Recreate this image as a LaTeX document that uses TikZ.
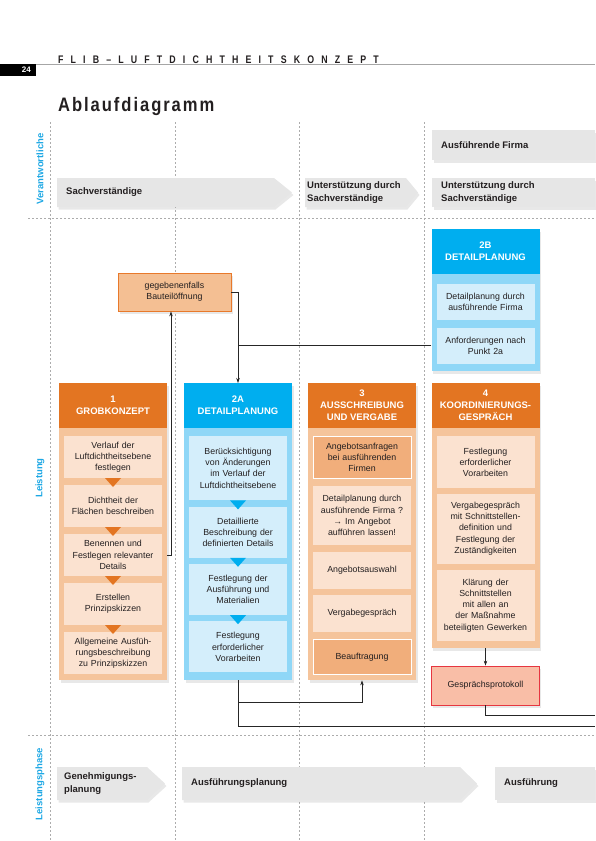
\documentclass[tikz,border=0pt]{standalone}
\usepackage{fontspec}
\setmainfont{Liberation Sans}
\newfontfamily\trackfont[FakeStretch=0.8, LetterSpace=65]{Liberation Sans}
\newfontfamily\titlefont[FakeStretch=0.85, LetterSpace=10]{Liberation Sans}
\usepackage{tikz}
\usetikzlibrary{arrows.meta, positioning, shadows}

\definecolor{orhead}{HTML}{E37522}
\definecolor{orbody}{HTML}{F5C49B}
\definecolor{orinner}{HTML}{FBE2D0}
\definecolor{ordark}{HTML}{F1AE7B}
\definecolor{bluhead}{HTML}{00AEEF}
\definecolor{blubody}{HTML}{8FD7F7}
\definecolor{bluinner}{HTML}{D4EEFB}
\definecolor{gegfill}{HTML}{F4BF93}
\definecolor{gegline}{HTML}{E8792B}
\definecolor{protfill}{HTML}{F9BEA7}
\definecolor{protline}{HTML}{E63640}
\definecolor{phasegray}{HTML}{E6E6E6}
\definecolor{rowblue}{HTML}{1CA7E4}
\definecolor{inktext}{HTML}{231F20}

\begin{document}
\begin{tikzpicture}[
    x=1pt, y=-1pt,
    >={Stealth[length=5pt, width=3.5pt]},
    every node/.style={text=inktext, inner sep=2pt},
    gridline/.style={gray!65, line width=0.5pt, dash pattern=on 2.2pt off 1.8pt},
    connector/.style={draw=black!85, line width=0.6pt},
    softshadow/.style={drop shadow={opacity=0.18, shadow xshift=1.5pt, shadow yshift=-2.5pt}},
    phase/.style={fill=phasegray, softshadow},
    phase label/.style={anchor=west, align=left, font=\fontsize{9.5}{12.5}\selectfont\bfseries},
    row label/.style={rotate=90, text=rowblue, font=\fontsize{9.5}{11}\selectfont\bfseries},
    blockbody/.style={minimum width=108pt, anchor=north, fill=#1, softshadow},
    blockhead/.style={minimum width=108pt, minimum height=45pt, anchor=north, fill=#1, text=white, align=center, font=\fontsize{9.5}{12}\selectfont\bfseries},
    taskbox/.style={fill=#1, text width=94pt, align=center, font=\fontsize{8.8}{11.2}\selectfont},
    marked task/.style={taskbox=ordark, draw=white, line width=0.9pt},
    gegbox/.style={fill=gegfill, draw=gegline, line width=0.8pt, minimum width=113pt, minimum height=38pt, align=center, font=\fontsize{8.8}{11.2}\selectfont, softshadow},
    protbox/.style={fill=protfill, draw=protline, line width=0.8pt, minimum width=108pt, minimum height=39pt, font=\fontsize{8.8}{11.2}\selectfont, softshadow}
]
    \useasboundingbox (0,0) rectangle (595,841);

    % --- PAGE HEAD ---
    \draw[gray!70, line width=0.6pt] (0,64) -- (595,64);
    \fill[black] (0,64) rectangle (36,76);
    \node[anchor=east, text=white, font=\fontsize{8}{9}\selectfont\bfseries] (pageno) at (33,70) {24};
    \node[anchor=base west, inner sep=0pt, font=\trackfont\bfseries\fontsize{11}{12}\selectfont] (runhead) at (58,63) {FLIB–LUFTDICHTHEITSKONZEPT};
    \node[anchor=base west, inner sep=0pt, font=\titlefont\bfseries\fontsize{19.5}{22}\selectfont] (title) at (58,111) {Ablaufdiagramm};

    % --- GRID ---
    \foreach \gx in {50,175,299,424}
        \draw[gridline] (\gx,122) -- (\gx,841);
    \draw[gridline] (28,218) -- (595,218);
    \draw[gridline] (28,735) -- (595,735);

    % --- ROW LABELS ---
    \node[row label] (lblresp) at (40,169) {Verantwortliche};
    \node[row label] (lbltask) at (40,478) {Leistung};
    \node[row label] (lblphase) at (40,784) {Leistungsphase};

    % --- VERANTWORTLICHE (top row) ---
    \fill[phase] (57,178) -- (274,178) -- (292,192.5) -- (274,207) -- (57,207) -- cycle;
    \node[phase label] (sv) at (64,192.5) {Sachverständige};
    \fill[phase] (305,178) -- (406,178) -- (418,192.5) -- (406,207) -- (305,207) -- cycle;
    \node[phase label] (usvA) at (305,192.5) {Unterstützung durch\\Sachverständige};
    \fill[phase] (432,130) rectangle (595,160);
    \node[phase label] (firma) at (439,145) {Ausführende Firma};
    \fill[phase] (432,178) rectangle (595,207);
    \node[phase label] (usvB) at (439,192.5) {Unterstützung durch\\Sachverständige};

    % --- LEISTUNGSPHASE (bottom row) ---
    \fill[phase] (57,767) -- (147,767) -- (165,783.5) -- (147,800) -- (57,800) -- cycle;
    \node[phase label] (genehm) at (62,783.5) {Genehmigungs-\\planung};
    \fill[phase] (182,767) -- (460,767) -- (477,783.5) -- (460,800) -- (182,800) -- cycle;
    \node[phase label] (ausfpl) at (189,783.5) {Ausführungsplanung};
    \fill[phase] (495,767) rectangle (595,800);
    \node[phase label] (ausf) at (502,783.5) {Ausführung};

    % --- OPTIONAL OPENING ---
    \node[gegbox] (geg) at (174.5,292) {gegebenenfalls\\Bauteilöffnung};

    % --- 2B DETAILPLANUNG (firm) ---
    \node[blockbody=blubody, minimum height=142pt] (d2b) at (485.5,229) {};
    \node[blockhead=bluhead] (h2b) at (485.5,229) {2B\\DETAILPLANUNG};
    \node[taskbox=bluinner, minimum height=36pt, anchor=north] (t2ba) at (485.5,284) {Detailplanung durch\\ausführende Firma};
    \node[taskbox=bluinner, minimum height=36pt, below=7pt of t2ba] (t2bb) {Anforderungen nach\\Punkt 2a};

    % --- 1 GROBKONZEPT ---
    \node[blockbody=orbody, minimum height=297pt] (d1) at (113,383) {};
    \node[blockhead=orhead] (h1) at (113,383) {1\\GROBKONZEPT};
    \node[taskbox=orinner, minimum height=41.6pt, anchor=north] (t1a) at (113,436) {Verlauf der\\Luftdichtheitsebene\\festlegen};
    \node[taskbox=orinner, minimum height=41.6pt, below=7pt of t1a] (t1b) {Dichtheit der\\Flächen beschreiben};
    \node[taskbox=orinner, minimum height=41.6pt, below=7pt of t1b] (t1c) {Benennen und\\Festlegen relevanter\\Details};
    \node[taskbox=orinner, minimum height=41.6pt, below=7pt of t1c] (t1d) {Erstellen\\Prinzipskizzen};
    \node[taskbox=orinner, minimum height=41.6pt, below=7pt of t1d] (t1e) {Allgemeine Ausfüh-\\rungsbeschreibung\\zu Prinzipskizzen};
    \foreach \s in {a,b,c,d}
        \fill[orhead] (t1\s.south) ++(-8,0) -- ++(16,0) -- ++(-8,9) -- cycle;

    % --- 2A DETAILPLANUNG ---
    \node[blockbody=blubody, minimum height=297pt] (d2a) at (238,383) {};
    \node[blockhead=bluhead] (h2a) at (238,383) {2A\\DETAILPLANUNG};
    \node[taskbox=bluinner, minimum height=64pt, anchor=north] (t2aa) at (238,436) {Berücksichtigung\\von Änderungen\\im Verlauf der\\Luftdichtheitsebene};
    \node[taskbox=bluinner, minimum height=51pt, below=6pt of t2aa] (t2ab) {Detaillierte\\Beschreibung der\\definierten Details};
    \node[taskbox=bluinner, minimum height=51pt, below=6pt of t2ab] (t2ac) {Festlegung der\\Ausführung und\\Materialien};
    \node[taskbox=bluinner, minimum height=51pt, below=6pt of t2ac] (t2ad) {Festlegung\\erforderlicher\\Vorarbeiten};
    \foreach \s in {a,b,c}
        \fill[bluhead] (t2a\s.south) ++(-8,0) -- ++(16,0) -- ++(-8,9) -- cycle;

    % --- 3 AUSSCHREIBUNG UND VERGABE ---
    \node[blockbody=orbody, minimum height=297pt] (d3) at (362,383) {};
    \node[blockhead=orhead] (h3) at (362,383) {3\\AUSSCHREIBUNG\\UND VERGABE};
    \node[marked task, minimum height=42pt, anchor=north] (t3a) at (362,436) {Angebotsanfragen\\bei ausführenden\\Firmen};
    \node[taskbox=orinner, minimum height=59pt, below=7pt of t3a] (t3b) {Detailplanung durch\\ausführende Firma ?\\→ Im Angebot\\aufführen lassen!};
    \node[taskbox=orinner, minimum height=37pt, below=6pt of t3b] (t3c) {Angebotsauswahl};
    \node[taskbox=orinner, minimum height=37pt, below=6pt of t3c] (t3d) {Vergabegespräch};
    \node[marked task, minimum height=35pt, below=7pt of t3d] (t3e) {Beauftragung};

    % --- 4 KOORDINIERUNGSGESPRAECH ---
    \node[blockbody=orbody, minimum height=265pt] (d4) at (485.5,383) {};
    \node[blockhead=orhead] (h4) at (485.5,383) {4\\KOORDINIERUNGS-\\GESPRÄCH};
    \node[taskbox=orinner, minimum height=52pt, anchor=north] (t4a) at (485.5,436) {Festlegung\\erforderlicher\\Vorarbeiten};
    \node[taskbox=orinner, minimum height=70pt, below=5pt of t4a] (t4b) {Vergabegespräch\\mit Schnittstellen-\\definition und\\Festlegung der\\Zuständigkeiten};
    \node[taskbox=orinner, minimum height=71pt, below=6pt of t4b] (t4c) {Klärung der\\Schnittstellen\\mit allen an\\der Maßnahme\\beteiligten Gewerken};

    \node[protbox] (prot) at (485.5,685.5) {Gesprächsprotokoll};

    % --- CONNECTORS ---
    \coordinate (riser) at (171,300);
    \coordinate (edgelow) at (595,726);
    \coordinate (edgehigh) at (595,715);
    \draw[connector, ->] (t1c.east -| d1.east) -| (geg.south -| riser);
    \draw[connector, ->] (geg.east) -| (h2a.north);
    \draw[connector] (t2bb.west -| d2b.west) -- (t2bb.west -| h2a.north);
    \draw[connector, ->] (d2a.south) -- ++(0,22) -| (d3.south);
    \draw[connector] (d2a.south) |- (edgelow);
    \draw[connector, ->] (d4.south) -- (prot.north);
    \draw[connector] (prot.south) |- (edgehigh);

\end{tikzpicture}
\end{document}
